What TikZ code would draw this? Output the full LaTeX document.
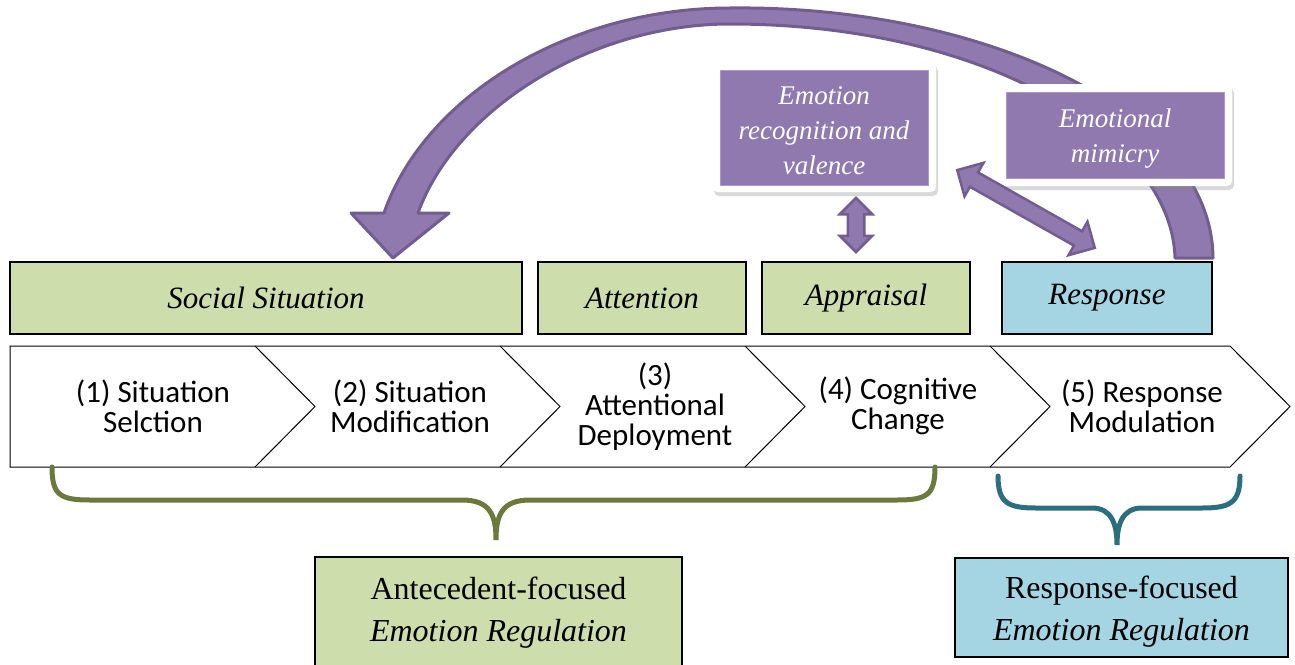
\documentclass[tikz,border=0pt]{standalone}
\usepackage{fontspec}
\setmainfont{Liberation Serif}
\newfontfamily\calib{Carlito}
\usepackage{tikz}
\usetikzlibrary{shapes.arrows,shadows}
\definecolor{sage}{RGB}{205,221,172}
\definecolor{sky}{RGB}{165,213,227}
\definecolor{lilac}{RGB}{143,121,175}
\definecolor{plum}{RGB}{113,94,142}
\definecolor{bracegreen}{RGB}{107,122,60}
\definecolor{braceblue}{RGB}{45,110,126}
\tikzset{stage/.style={draw=black, line width=1.5pt, minimum height=72pt, font=\fontsize{31}{31}\selectfont\itshape}}
\tikzset{antestage/.style={stage, fill=sage}}
\tikzset{respstage/.style={stage, fill=sky}}
\tikzset{frame/.style={fill=white, rounded corners=5pt, drop shadow={opacity=0.3, shadow xshift=2pt, shadow yshift=-4pt}}}
\tikzset{mood/.style={fill=lilac, draw=lilac!75!white, line width=1pt}}
\tikzset{moodtext/.style={text=white, align=center, font=\fontsize{27}{35}\selectfont\itshape}}
\tikzset{procstep/.style={align=center, font=\calib\fontsize{31}{30}\selectfont}}
\tikzset{chevron/.style={draw=black, line width=1pt, fill=white}}
\tikzset{brace/.style={line width=5pt, line cap=round, #1}}
\tikzset{dbl/.style={double arrow, fill=lilac, draw=plum, line width=2.5pt, inner xsep=0pt, inner ysep=7pt, double arrow head extend=8pt}}
\tikzset{loopback/.style={fill=lilac, draw=plum, line width=3pt, line join=round}}
\tikzset{focus/.style={draw=black, line width=1.5pt}}
\tikzset{focustext/.style={align=center, font=\fontsize{32}{42}\selectfont}}

\begin{document}
\begin{tikzpicture}[x=1pt, y=-1pt]
\useasboundingbox (0,0) rectangle (1295,664);
%process steps
\draw[chevron] (10,346) -- (1230,346) -- (1290,406.5) -- (1230,467) -- (10,467) -- cycle;
\foreach \k in {1,...,4}
  \draw[chevron] (10+245*\k,346) -- (70+245*\k,406.5) -- (10+245*\k,467);
\node (step1) at (153,406)[procstep]{(1) Situation\\Selction};
\node (step2) at (410,406)[procstep]{(2) Situation\\Modification};
\node (step3) at (655,407)[procstep]{(3)\\Attentional\\Deployment};
\node (step4) at (898,406)[procstep]{(4) Cognitive\\Change};
\node (step5) at (1142,406)[procstep]{(5) Response\\Modulation};
%what each step acts on
\node (sit) at (266,298)[antestage, minimum width=512pt]{Social Situation};
\node (att) at (642,298)[antestage, minimum width=208pt]{Attention};
\node (appr) at (866,298)[antestage, minimum width=208pt]{Appraisal};
\node (resp) at (1107,298)[respstage, minimum width=210pt]{Response};
%feedback from the response back to the situation
\coordinate (loopstart) at (1194,258);
\coordinate (looptip) at (393,258);
\draw[loopback] (1213,258) .. controls (1212,110) and (980,5) .. (730,8)
  .. controls (570,8) and (425,95) .. (384,213) -- (351,213) -- (looptip) -- (449,213) -- (418,213)
  .. controls (455,110) and (590,24) .. (730,24) .. controls (990,24) and (1172,140) .. (1175,258) -- cycle;
%social cues
\node (recogframe) at (824,127)[frame, minimum width=224pt, minimum height=130pt]{};
\node (recog) at (824,128)[mood, minimum width=208pt, minimum height=115pt]{};
\node (recoglabel) at (824,131)[moodtext]{Emotion\\recognition and\\valence};
\node (mimicframe) at (1115,135)[frame, minimum width=234pt, minimum height=102pt]{};
\node (mimic) at (1115,135.5)[mood, minimum width=218pt, minimum height=86pt]{};
\node (mimiclabel) at (1115,139)[moodtext]{Emotional\\mimicry};
\node (recogarrow) at (856,225)[dbl, minimum height=54pt, rotate=90]{};
\node (mimicarrow) at (1026,209)[dbl, minimum height=158pt, double arrow head extend=11pt, rotate=-29.5]{};
%kinds of regulation
\draw[brace=bracegreen] (52,467) .. controls (52,495) and (60,500) .. (90,500) -- (462,500)
  .. controls (490,500) and (496,515) .. (496,540) .. controls (496,515) and (502,500) .. (530,500)
  -- (897,500) .. controls (927,500) and (935,495) .. (935,467);
\draw[brace=braceblue] (998,476) .. controls (998,503) and (1008,508) .. (1036,508) -- (1092,508)
  .. controls (1112,508) and (1117,525) .. (1117,545) .. controls (1117,525) and (1122,508) .. (1142,508)
  -- (1202,508) .. controls (1230,508) and (1240,503) .. (1240,476);
\node (antec) at (498.5,613)[focus, fill=sage, minimum width=367pt, minimum height=112pt]{};
\node (anteclabel) at (498.5,613)[focustext]{Antecedent-focused\\\textit{Emotion Regulation}};
\node (respfoc) at (1121.5,607.5)[focus, fill=sky, minimum width=333pt, minimum height=99pt]{};
\node (respfoclabel) at (1121.5,612)[focustext]{Response-focused\\\textit{Emotion Regulation}};
\end{tikzpicture}
\end{document}
